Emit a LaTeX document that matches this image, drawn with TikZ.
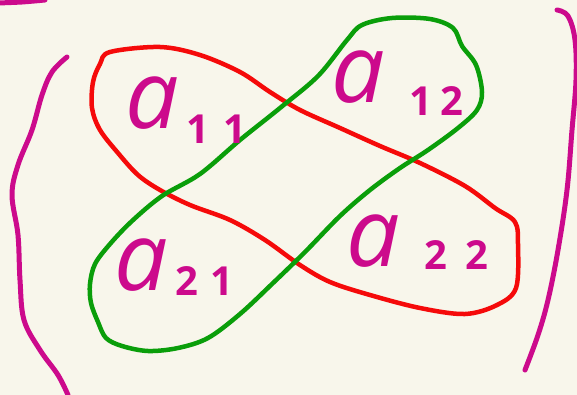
\documentclass[tikz,border=0pt]{standalone}
\usepackage{fontspec}
\setmainfont{Open Sans}
\definecolor{bg}{HTML}{F8F6EB}
\definecolor{ink}{HTML}{CC0A8C}
\definecolor{redink}{HTML}{F50A0A}
\definecolor{greenink}{HTML}{0A9E0A}
\begin{document}
\begin{tikzpicture}[x=1pt,y=-1pt,
  pen/.style={line width=4.5pt,line cap=round,line join=round},
  bracket/.style={pen,ink,line width=5pt},
  letter/.style={text=ink,inner sep=0pt,font=\itshape\fontsize{95}{95}\selectfont},
  digits/.style={text=ink,inner sep=0pt,font=\bfseries\fontsize{40}{40}\selectfont}]
\fill[bg] (0,0) rectangle (577,395);
\useasboundingbox (0,0) rectangle (577,395);
% top-left stray stroke
\draw[bracket] plot[smooth] coordinates {(-2,3) (22,2) (45,0)};
% left bracket
\draw[bracket] plot[smooth,tension=0.6] coordinates {(67,57) (52,72) (42,95) (32,130) (18,165) (12,195) (18,235) (20,280) (24,320) (40,350) (58,375) (68,395)};
% right bracket
\draw[bracket] plot[smooth,tension=0.6] coordinates {(557,10) (568,16) (575,40) (576,80) (572,130) (567,190) (558,250) (548,300) (538,335) (525,370)};
% red loop (main diagonal)
\draw[pen,redink] plot[smooth cycle,tension=0.55] coordinates {(110,52) (160,47) (200,55) (240,72) (270,92) (300,110) (340,128) (380,146) (420,163) (465,186) (495,208) (515,222) (518,245) (516,288) (497,305) (465,314) (420,308) (370,295) (330,282) (300,265) (265,240) (230,220) (190,205) (160,190) (138,175) (118,153) (100,130) (92,108) (93,82) (100,64)};
% green loop (anti-diagonal)
\draw[pen,greenink] plot[smooth cycle,tension=0.55] coordinates {(347,40) (362,25) (392,18) (430,19) (453,28) (462,46) (476,65) (482,92) (477,110) (458,128) (428,150) (400,168) (370,190) (340,216) (305,252) (272,284) (240,314) (208,338) (178,348) (148,351) (122,346) (106,338) (98,322) (91,303) (90,284) (95,264) (110,244) (132,221) (162,196) (200,174) (240,140) (280,108) (318,76)};
% entries
\node[letter] (a11) at (152,103) {a};
\node[digits] (s11) at (216,129) {1\hspace{14pt}1};
\node[letter] (a12) at (358,77) {a};
\node[digits] (s12) at (436,101) {1\hspace{8pt}2};
\node[letter] (a21) at (141,265) {a};
\node[digits] (s21) at (204,281) {2\hspace{12pt}1};
\node[letter] (a22) at (373,241) {a};
\node[digits] (s22) at (456,255) {2\hspace{18pt}2};
\end{tikzpicture}
\end{document}
